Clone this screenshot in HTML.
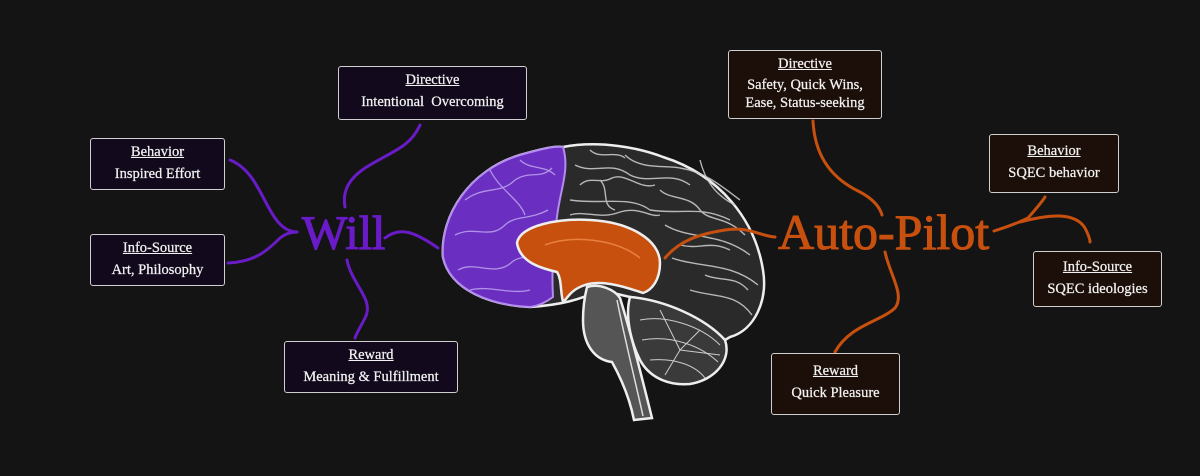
<!DOCTYPE html>
<html><head><meta charset="utf-8"><style>
html,body{margin:0;padding:0;background:#141414;}
#c{position:relative;width:1200px;height:476px;overflow:hidden;background:#141414;font-family:"Liberation Serif",serif;}
.b{position:absolute;border:1.5px solid #cfcfcf;border-radius:3px;color:#f2f2f2;text-align:center;font-size:14.5px;line-height:19px;box-sizing:border-box;-webkit-text-stroke:0.25px #f2f2f2;}
.l{background:#120a1c;}
.r{background:#1c0e08;}
.t{text-decoration:underline;display:block;margin-top:4px;margin-bottom:3px;}
.big{position:absolute;font-family:"Liberation Serif",serif;}
</style></head><body><div id="c">
<svg width="1200" height="476" style="position:absolute;left:0;top:0">
<g fill="none" stroke="#6a1bc8" stroke-width="3" stroke-linecap="round">
<path d="M345,207 C342,190 350,178 365,168 C390,152 410,148 420,125"/>
<path d="M230,160 C255,170 262,200 275,218 C282,228 290,232 297,232"/>
<path d="M228,263 C255,262 268,250 280,238 C286,233 292,232 297,232"/>
<path d="M347,260 C352,285 375,300 365,318 C360,328 356,334 355,338"/>
<path d="M385,238 C400,226 415,232 438,248"/>
</g>
<path d="M443,257 C440,215 470,170 520,155 C545,148 555,146 563,147 C600,140 640,148 663,157 C720,175 755,220 763,270 C768,300 755,330 730,337 L725,340 C700,320 660,300 630,297 L600,290 C580,300 560,305 530,307 C490,305 450,290 443,257Z" fill="#2a2a2a" stroke="#eee" stroke-width="2.5"/>
<path d="M443,257 C440,215 470,170 520,155 C545,148 555,146 563,147 C570,170 560,190 557,217 C552,250 552,280 553,297 C545,303 538,306 530,307 C490,305 450,290 443,257Z" fill="#6a2fc0" stroke="#b48cf0" stroke-width="2"/>
<g fill="none" stroke="#d0d0d0" stroke-width="1.4" opacity="0.85">
<path d="M575,165 C595,175 610,160 630,175 C650,185 670,170 690,185"/>
<path d="M570,200 C600,205 630,195 650,210 C680,215 700,205 730,220"/>
<path d="M625,155 C640,170 665,165 680,168 C705,172 720,185 740,200"/>
<path d="M665,225 C690,240 720,232 750,255"/>
<path d="M672,258 C700,268 730,262 758,285"/>
<path d="M690,290 C715,298 735,292 752,315"/>
<path d="M600,180 C610,190 600,205 615,210"/>
<path d="M700,160 C705,180 715,195 735,205"/>
<path d="M580,185 C590,175 600,185 612,178 C625,172 640,190 655,185"/>
<path d="M590,150 C600,160 615,150 625,158"/>
<path d="M660,190 C670,200 690,195 700,210 C710,222 725,215 745,235"/>
<path d="M570,215 C585,210 600,220 620,212 C640,206 650,218 660,215"/>
<path d="M680,245 C700,250 710,240 730,250"/>
<path d="M705,275 C720,282 735,275 748,290"/>
</g>
<g fill="none" stroke="#c9b3f5" stroke-width="1.3" opacity="0.75">
<path d="M465,200 C485,185 500,195 515,180 C530,170 540,180 552,168"/>
<path d="M455,235 C475,225 490,240 505,225 C515,215 530,220 548,210"/>
<path d="M458,270 C475,260 495,278 512,262 C525,252 540,262 550,255"/>
<path d="M490,170 C500,190 520,200 525,215"/>
<path d="M470,290 C490,285 510,295 530,290"/>
<path d="M520,160 C530,170 545,165 555,175"/>
</g>
<path d="M630,297 C665,300 705,318 725,340 C732,360 715,380 690,384 C665,386 648,375 640,360 C630,340 625,315 630,297Z" fill="#3a3a3a" stroke="#eee" stroke-width="2.5"/>
<g fill="none" stroke="#ccc" stroke-width="1"><path d="M640,320 C665,315 700,325 720,345"/><path d="M642,340 C670,335 700,345 718,362"/><path d="M650,360 C675,358 695,365 705,378"/><path d="M660,310 L680,350 L700,330"/><path d="M680,350 L665,375"/><path d="M680,350 L720,355"/></g>
<path d="M587,287 C600,283 615,290 620,298 C630,330 640,370 652,418 L634,420 C630,400 622,380 612,362 C595,360 583,345 583,320 C583,305 585,295 587,287Z" fill="#555" stroke="#eee" stroke-width="2.5"/>
<path d="M617,300 C625,340 635,380 643,416" fill="none" stroke="#ddd" stroke-width="1.5"/>
<path d="M517,243 C520,225 560,218 590,220 C630,222 660,240 660,263 C660,280 652,290 643,293 C620,285 600,280 585,285 C570,290 568,298 563,302 C560,290 562,280 557,272 C540,268 520,262 517,243Z" fill="#c8500f" stroke="#eee" stroke-width="2.5"/>
<path d="M545,245 C570,235 615,238 640,258" fill="none" stroke="#e88040" stroke-width="1.5"/>
<g fill="none" stroke="#c8500f" stroke-width="3" stroke-linecap="round">
<path d="M813,121 C815,160 835,180 860,192 C875,200 880,208 882,215"/>
<path d="M775,237 C760,236 748,226 725,230 C700,234 680,240 665,258"/>
<path d="M994,231 C1010,226 1020,222 1028,218 C1035,210 1042,202 1045,197"/>
<path d="M1020,222 C1050,214 1075,212 1085,228 C1089,236 1090,240 1090,242"/>
<path d="M885,252 C890,275 905,295 895,308 C880,322 850,325 835,352"/>
</g>
</svg>
<div class="big" style="left:302px;top:206px;font-size:48px;color:#6a1bc8;-webkit-text-stroke:1.2px #6a1bc8;">Will</div>
<div class="big" style="left:778px;top:203px;font-size:50px;color:#c8500f;-webkit-text-stroke:1px #c8500f;">Auto-Pilot</div>
<div class="b l" style="left:338px;top:66px;width:189px;height:54px;"><span class="t">Directive</span>Intentional&nbsp; Overcoming</div>
<div class="b l" style="left:90px;top:138px;width:135px;height:52px;"><span class="t">Behavior</span>Inspired Effort</div>
<div class="b l" style="left:90px;top:234px;width:135px;height:52px;"><span class="t">Info-Source</span>Art, Philosophy</div>
<div class="b l" style="left:284px;top:341px;width:174px;height:52px;"><span class="t">Reward</span>Meaning &amp; Fulfillment</div>
<div class="b r" style="left:728px;top:50px;width:154px;height:69px;line-height:18px;"><span class="t">Directive</span>Safety, Quick Wins,<br>Ease, Status-seeking</div>
<div class="b r" style="left:989px;top:134px;width:130px;height:59px;"><span class="t" style="margin-top:7px">Behavior</span>SQEC behavior</div>
<div class="b r" style="left:1033px;top:251px;width:129px;height:56px;"><span class="t" style="margin-top:6px">Info-Source</span>SQEC ideologies</div>
<div class="b r" style="left:771px;top:353px;width:129px;height:62px;"><span class="t" style="margin-top:8px">Reward</span>Quick Pleasure</div>
</div></body></html>
